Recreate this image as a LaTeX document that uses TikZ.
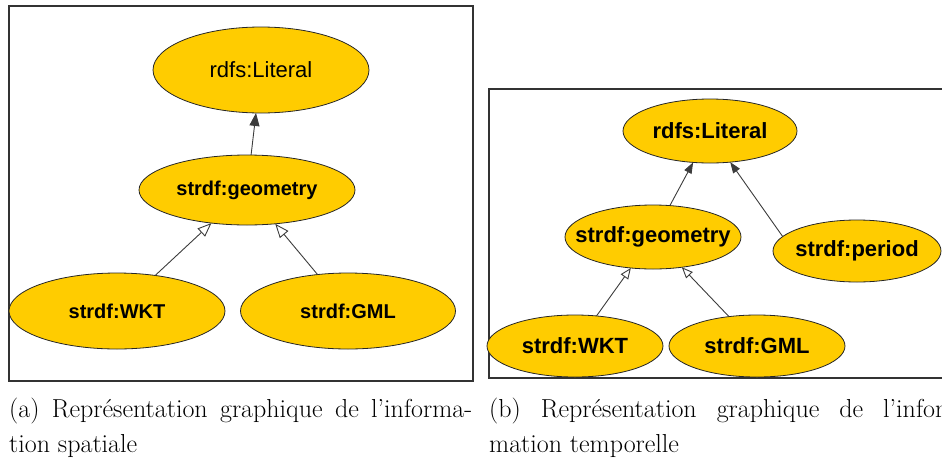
\documentclass[tikz,border=0pt]{standalone}
\usepackage{fontspec}
\newfontfamily\arialfont{Liberation Sans}
\usetikzlibrary{arrows.meta,shapes.geometric}
\definecolor{gold}{RGB}{255,204,0}
\definecolor{edgegray}{RGB}{60,60,60}
\begin{document}
\begin{tikzpicture}[x=1pt,y=-1pt,
  ell/.style={ellipse, draw=black!85, line width=0.8pt, fill=gold, inner sep=0pt, outer sep=0pt},
  panel/.style={draw=black!80, line width=1.3pt},
  lbold/.style={font=\arialfont\bfseries\fontsize{20}{24}\selectfont},
  lreg/.style={font=\arialfont\fontsize{22}{26}\selectfont},
  rbold/.style={font=\arialfont\bfseries\fontsize{22}{26}\selectfont},
  isaL/.style={draw=edgegray, line width=0.9pt, -{Triangle[open,length=14pt,width=11pt,fill=white]}},
  relL/.style={draw=edgegray, line width=0.9pt, -{Triangle[length=13pt,width=10pt]}},
  isaR/.style={draw=edgegray, line width=0.9pt, -{Triangle[open,length=11pt,width=9pt,fill=white]}},
  relR/.style={draw=edgegray, line width=0.9pt, -{Triangle[length=11pt,width=8pt]}},
  captext/.style={anchor=base west, inner sep=0pt, font=\fontsize{26}{31}\selectfont}
]
\useasboundingbox (0,0) rectangle (942,461);
\clip (0,0) rectangle (942,461);

% ---------- panel (a) ----------
\draw[panel] (9,6) rectangle (473,381);
\node[ell, lreg, minimum width=216pt, minimum height=86pt] (aLit) at (261,70) {\makebox[0pt]{rdfs:Literal}};
\node[ell, lbold, minimum width=216pt, minimum height=70pt] (aGeo) at (247,190) {\makebox[0pt]{strdf:geometry}};
\node[ell, lbold, minimum width=216pt, minimum height=76pt] (aWKT) at (117,311) {\makebox[0pt]{strdf:WKT}};
\node[ell, lbold, minimum width=215pt, minimum height=76pt] (aGML) at (348,311) {\makebox[0pt]{strdf:GML}};
\draw[relL] (aGeo) -- (aLit);
\draw[isaL] (aWKT) -- (aGeo);
\draw[isaL] (aGML) -- (aGeo);

% ---------- panel (b) ----------
\draw[panel] (960,89) -- (489,89) -- (489,378) -- (960,378);
\node[ell, rbold, minimum width=174pt, minimum height=64pt] (bLit) at (710,131) {\makebox[0pt]{rdfs:Literal}};
\node[ell, rbold, minimum width=176pt, minimum height=64pt] (bGeo) at (653,237) {\makebox[0pt]{strdf:geometry}};
\node[ell, rbold, minimum width=168pt, minimum height=62pt] (bPer) at (857,251) {\makebox[0pt]{strdf:period}};
\node[ell, rbold, minimum width=176pt, minimum height=62pt] (bWKT) at (575,346) {\makebox[0pt]{strdf:WKT}};
\node[ell, rbold, minimum width=176pt, minimum height=62pt] (bGML) at (757,346) {\makebox[0pt]{strdf:GML}};
\draw[relR] (bGeo) -- (bLit);
\draw[relR] (bPer.169) -- (bLit.-57);
\draw[isaR] (bWKT) -- (bGeo);
\draw[isaR] (bGML) -- (bGeo);

% ---------- captions ----------
\node[captext] (capa1) at (9,417) {\hbox to 463pt{(a) Représentation graphique de l’informa-}};
\node[captext] (capa2) at (9,452) {tion spatiale};
\node[captext] (capb1) at (489,417) {\hbox to 463pt{(b)\hfill Représentation\hfill graphique\hfill de\hfill l’infor-}};
\node[captext] (capb2) at (489,452) {mation temporelle};
\end{tikzpicture}
\end{document}
